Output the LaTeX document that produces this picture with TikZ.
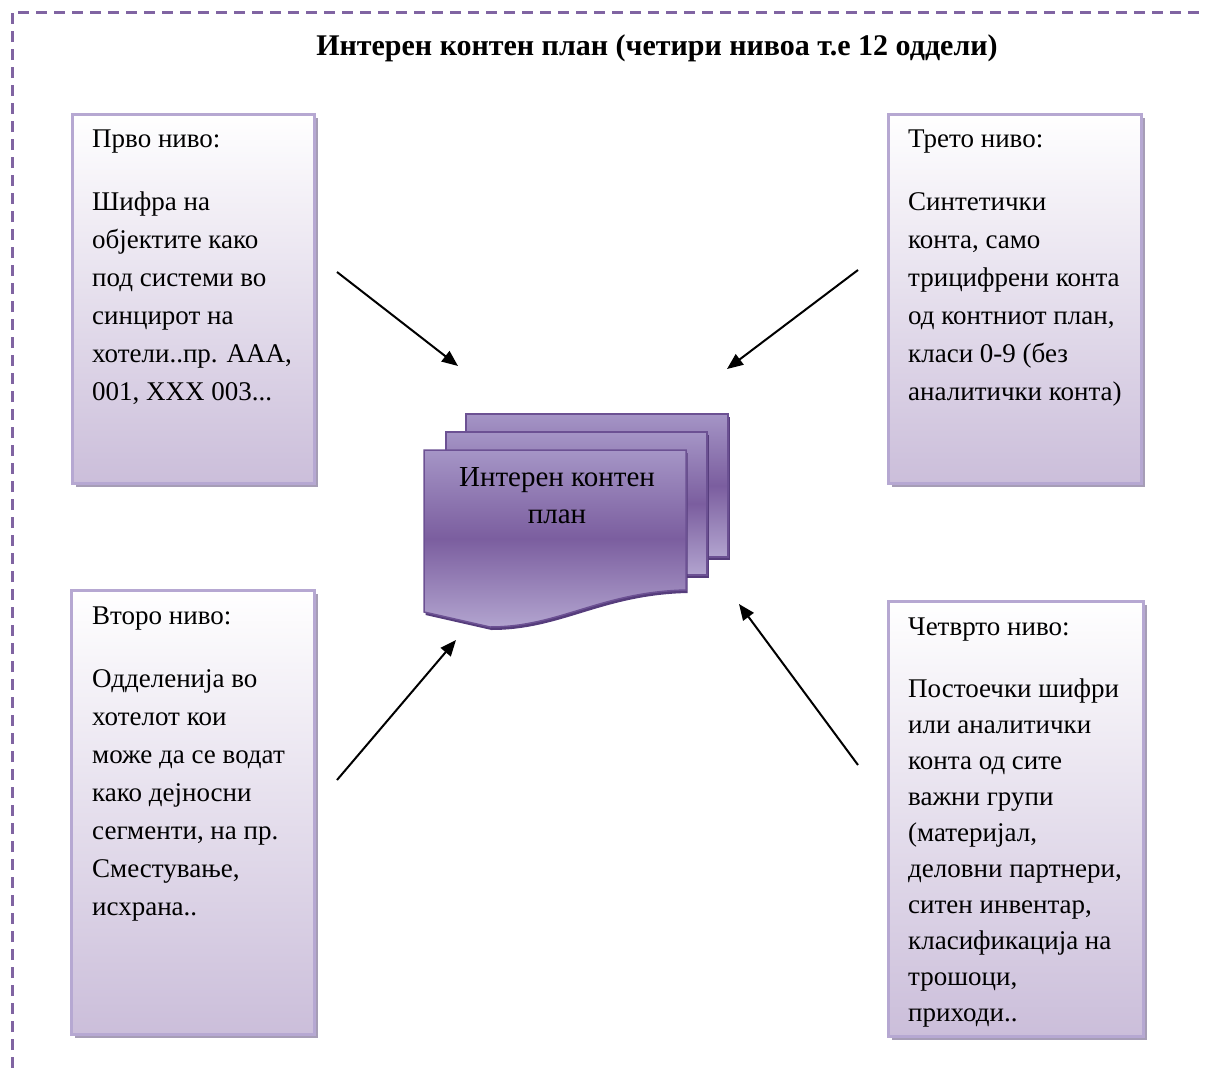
\documentclass[tikz,border=0pt]{standalone}
\usepackage{fontspec}
\setmainfont{Liberation Serif}
\usetikzlibrary{arrows.meta,shadows}
\definecolor{framecol}{HTML}{8064A2}
\definecolor{boxedge}{HTML}{B6A8D2}
\definecolor{boxfill}{HTML}{CBBEDA}
\definecolor{boxshadow}{HTML}{A69DB6}
\definecolor{docTop}{HTML}{A595C6}
\definecolor{docMid}{HTML}{7B5E9F}
\definecolor{docBot}{HTML}{B2A4CF}
\definecolor{docedge}{HTML}{6C5193}
\definecolor{docshadow}{HTML}{563D7C}
\begin{document}
\begin{tikzpicture}[x=1pt,y=-1pt,
  levelbox/.style={draw=boxedge, line width=2.5pt, top color=white, bottom color=boxfill,
    drop shadow={shadow xshift=4pt, shadow yshift=-4pt, fill=boxshadow, opacity=1},
    anchor=north west, inner sep=0pt},
  leveltext/.style={anchor=north west, inner sep=0pt, align=left,
    font=\fontsize{27}{38}\selectfont},
  sheet/.style={draw=docedge, line width=1.5pt, top color=docTop, bottom color=docBot,
    middle color=docMid,
    drop shadow={shadow xshift=1.5pt, shadow yshift=-3pt, fill=docshadow, opacity=1}},
  feed/.style={-{Triangle[length=16pt,width=13pt]}, line width=2pt, black}]
\useasboundingbox (0,0) rectangle (1205,1068);

% dashed frame
\draw[framecol, line width=3pt, dash pattern=on 11pt off 7pt] (12,1068) -- (12,12) -- (1205,12);

% heading
\node[font=\fontsize{30}{34}\selectfont\bfseries] (title) at (657,48)
  {Интерен контен план (четири нивоа т.е 12 оддели)};

% four level boxes
\node[levelbox, minimum width=242pt, minimum height=369pt] (b1) at (71,113) {};
\node[levelbox, minimum width=253pt, minimum height=369pt] (b3) at (887,113) {};
\node[levelbox, minimum width=243pt, minimum height=444pt] (b2) at (70,589) {};
\node[levelbox, minimum width=255pt, minimum height=435pt] (b4) at (887,600) {};

\node[leveltext] (t1) at (92,130) {Прво ниво:\\[25pt]Шифра на\\објектите како\\под системи во\\синцирот на\\хотели..пр. ААА,\\001, XXX 003...};
\node[leveltext] (t3) at (908,130) {Трето ниво:\\[25pt]Синтетички\\конта, само\\трицифрени конта\\од контниот план,\\класи 0-9 (без\\аналитички конта)};
\node[leveltext] (t2) at (92,607) {Второ ниво:\\[25pt]Одделенија во\\хотелот кои\\може да се водат\\како дејносни\\сегменти, на пр.\\Сместување,\\исхрана..};
\node[leveltext, font=\fontsize{27}{36}\selectfont] (t4) at (908,618) {Четврто ниво:\\[26pt]Постоечки шифри\\или аналитички\\конта од сите\\важни групи\\(материјал,\\деловни партнери,\\ситен инвентар,\\класификација на\\трошоци,\\приходи..};

% stacked documents
\path[sheet] (466,414) rectangle (728,557);
\path[sheet] (446,432) rectangle (707,575);
\path[sheet] (424,450) -- (686,450) -- (686,590)
  .. controls (600,592) and (560,627) .. (490,627) -- (424,612) -- cycle;
\node[align=center, font=\fontsize{29}{37}\selectfont] (doc) at (557,496) {Интерен контен\\план};

% arrows toward the documents
\coordinate (a1s) at (337,272); \coordinate (a1e) at (458,366);
\coordinate (a3s) at (858,270); \coordinate (a3e) at (727,369);
\coordinate (a2s) at (337,780); \coordinate (a2e) at (456,640);
\coordinate (a4s) at (858,765); \coordinate (a4e) at (739,604);
\draw[feed] (a1s) -- (a1e);
\draw[feed] (a3s) -- (a3e);
\draw[feed] (a2s) -- (a2e);
\draw[feed] (a4s) -- (a4e);
\end{tikzpicture}
\end{document}
